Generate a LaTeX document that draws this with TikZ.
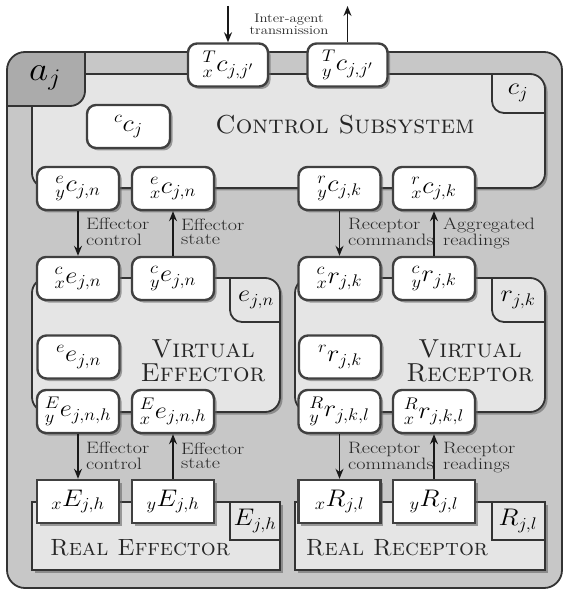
\RequirePackage{fix-cm}
\documentclass[tikz,border=0pt]{standalone}
\usetikzlibrary{arrows.meta,shadows}
\newcommand{\hs}[1]{\scalebox{1.1}[1]{#1}}
\newcommand{\twol}[2]{\scalebox{1.22}[1]{\begin{tabular}{@{}l@{}}#1\\#2\end{tabular}}}
\newcommand{\twoc}[2]{\scalebox{1.18}[1]{\begin{tabular}{@{}c@{}}#1\\#2\end{tabular}}}
\tikzset{
  port/.style={draw=black!75, line width=2.4pt, fill=white, rounded corners=9pt,
    minimum width=82pt, minimum height=43pt, inner sep=0pt,
    font=\fontsize{24}{26}\selectfont,
    drop shadow={shadow xshift=2.5pt, shadow yshift=-2.5pt, fill=black!60, opacity=0.6}},
  rport/.style={port, rounded corners=0pt},
  boxline/.style={draw=black!80, line width=1.8pt},
  boxshadow/.style={drop shadow={shadow xshift=2.5pt, shadow yshift=-2.5pt, fill=black!60, opacity=0.6}},
  arr/.style={-{Stealth[length=10pt,width=8pt]}, line width=1.4pt, draw=black!90},
  lbl/.style={anchor=west, inner sep=0pt, font=\fontsize{16.5}{14.5}\selectfont, text=black!85},
  title/.style={align=center, inner sep=0pt, font=\fontsize{26}{24}\selectfont, text=black!85},
  tablbl/.style={inner sep=0pt, font=\fontsize{24}{26}\selectfont}
}
\begin{document}
\begin{tikzpicture}[x=1pt,y=-1pt]
\useasboundingbox (0,0) rectangle (566,593);
% outer agent box
\fill[black!22, rounded corners=18pt] (7,52) rectangle (562,588);

% control subsystem
\path[fill=black!10, rounded corners=15pt, boxshadow] (32,74) rectangle (545,188);
\begin{scope}
  \clip[rounded corners=15pt] (32,74) rectangle (545,188);
  \draw[boxline, fill=black!10, rounded corners=12pt] (492,40) rectangle (600,113);
\end{scope}
\draw[boxline, rounded corners=15pt] (32,74) rectangle (545,188);
\node[tablbl] (cj) at (518,93) {\hs{$c_j$}};
\node[title] (ctitle) at (345,125) {\textsc{Control Subsystem}};

% agent tab (over the control box corner)
\begin{scope}
  \clip[rounded corners=18pt] (7,52) rectangle (562,588);
  \draw[boxline, fill=black!33, rounded corners=15pt] (-30,20) rectangle (85,106);
\end{scope}
\draw[boxline, rounded corners=18pt] (7,52) rectangle (562,588);
\node[tablbl, font=\fontsize{34}{40}\selectfont] (aj) at (45,78) {\hs{$a_j$}};

% virtual effector
\path[fill=black!10, rounded corners=15pt, boxshadow] (32,278) rectangle (280,412);
\begin{scope}
  \clip[rounded corners=15pt] (32,278) rectangle (280,412);
  \draw[boxline, fill=black!10, rounded corners=12pt] (230,250) rectangle (320,322);
\end{scope}
\draw[boxline, rounded corners=15pt] (32,278) rectangle (280,412);
\node[tablbl] (ejn) at (256,300) {\hs{$e_{j,n}$}};
\node[title] (vetitle) at (203,361) {\textsc{Virtual}\\\textsc{Effector}};

% virtual receptor
\path[fill=black!10, rounded corners=15pt, boxshadow] (295,278) rectangle (545,412);
\begin{scope}
  \clip[rounded corners=15pt] (295,278) rectangle (545,412);
  \draw[boxline, fill=black!10, rounded corners=12pt] (492,250) rectangle (600,322);
\end{scope}
\draw[boxline, rounded corners=15pt] (295,278) rectangle (545,412);
\node[tablbl] (rjk) at (518,300) {\hs{$r_{j,k}$}};
\node[title] (vrtitle) at (470,361) {\textsc{Virtual}\\\textsc{Receptor}};

% real effector
\draw[boxline, fill=black!10, boxshadow] (32,502) rectangle (280,570);
\draw[boxline, fill=black!10] (230,502) rectangle (280,540);
\node[tablbl] (Ejh) at (255,521) {\hs{$E_{j,h}$}};
\node[title, font=\fontsize{23.5}{24}\selectfont] (retitle) at (140,548) {\textsc{Real Effector}};

% real receptor
\draw[boxline, fill=black!10, boxshadow] (295,502) rectangle (545,570);
\draw[boxline, fill=black!10] (492,502) rectangle (545,540);
\node[tablbl] (Rjl) at (518,521) {\hs{$R_{j,l}$}};
\node[title, font=\fontsize{23.5}{24}\selectfont] (rrtitle) at (397,548) {\textsc{Real Receptor}};

% ports
\node[port, minimum width=80pt] (Tx) at (228,65) {\hs{${}^{T}_{x}c_{j,j'}$}};
\node[port, minimum width=80pt] (Ty) at (347.5,65) {\hs{${}^{T}_{y}c_{j,j'}$}};
\node[port, minimum width=83pt] (ccj) at (128.5,126.5) {\hs{${}^{c}c_{j}$}};

\node[port] (eyc) at (78,188.5) {\hs{${}^{e}_{y}c_{j,n}$}};
\node[port] (exc) at (173,188.5) {\hs{${}^{e}_{x}c_{j,n}$}};
\node[port] (ryc) at (339.5,188.5) {\hs{${}^{r}_{y}c_{j,k}$}};
\node[port] (rxc) at (434,188.5) {\hs{${}^{r}_{x}c_{j,k}$}};

\node[port] (cxe) at (78,278.5) {\hs{${}^{c}_{x}e_{j,n}$}};
\node[port] (cye) at (173,278.5) {\hs{${}^{c}_{y}e_{j,n}$}};
\node[port] (cxr) at (339.5,278.5) {\hs{${}^{c}_{x}r_{j,k}$}};
\node[port] (cyr) at (434,278.5) {\hs{${}^{c}_{y}r_{j,k}$}};

\node[port] (eee) at (78.5,357) {\hs{${}^{e}e_{j,n}$}};
\node[port] (rrr) at (340,357) {\hs{${}^{r}r_{j,k}$}};

\node[port] (Eye) at (78,411.5) {\hs{${}^{E}_{y}e_{j,n,h}$}};
\node[port] (Exe) at (173,411.5) {\hs{${}^{E}_{x}e_{j,n,h}$}};
\node[port] (Ryr) at (339.5,411.5) {\hs{${}^{R}_{y}r_{j,k,l}$}};
\node[port] (Rxr) at (434,411.5) {\hs{${}^{R}_{x}r_{j,k,l}$}};

\node[rport] (xE) at (78,501.5) {\hs{${}_{x}E_{j,h}$}};
\node[rport] (yE) at (173,501.5) {\hs{${}_{y}E_{j,h}$}};
\node[rport] (xR) at (339.5,501.5) {\hs{${}_{x}R_{j,l}$}};
\node[rport] (yR) at (434,501.5) {\hs{${}_{y}R_{j,l}$}};

% inter-agent
\coordinate (inTop) at (228,6);
\coordinate (outTop) at (347.5,6);
\draw[arr] (inTop) -- (Tx.north);
\draw[arr] (Ty.north) -- (outTop);
\node[inner sep=0pt, font=\fontsize{12.5}{12.5}\selectfont, text=black!85] (iat) at (289,26) {\twoc{Inter-agent}{transmission}};

% vertical arrows
\draw[arr] (eyc.south) -- (cxe.north);
\draw[arr] (cye.north) -- (exc.south);
\draw[arr] (ryc.south) -- (cxr.north);
\draw[arr] (cyr.north) -- (rxc.south);
\draw[arr] (Eye.south) -- (xE.north);
\draw[arr] (yE.north) -- (Exe.south);
\draw[arr] (Ryr.south) -- (xR.north);
\draw[arr] (yR.north) -- (Rxr.south);

\node[lbl] (l1) at (86,234) {\twol{Effector}{control}};
\node[lbl] (l2) at (181,234) {\twol{Effector}{state}};
\node[lbl] (l3) at (348,234) {\twol{Receptor}{commands}};
\node[lbl] (l4) at (443,234) {\twol{Aggregated}{readings}};
\node[lbl] (l5) at (86,458) {\twol{Effector}{control}};
\node[lbl] (l6) at (181,458) {\twol{Effector}{state}};
\node[lbl] (l7) at (348,458) {\twol{Receptor}{commands}};
\node[lbl] (l8) at (443,458) {\twol{Receptor}{readings}};
\end{tikzpicture}
\end{document}
